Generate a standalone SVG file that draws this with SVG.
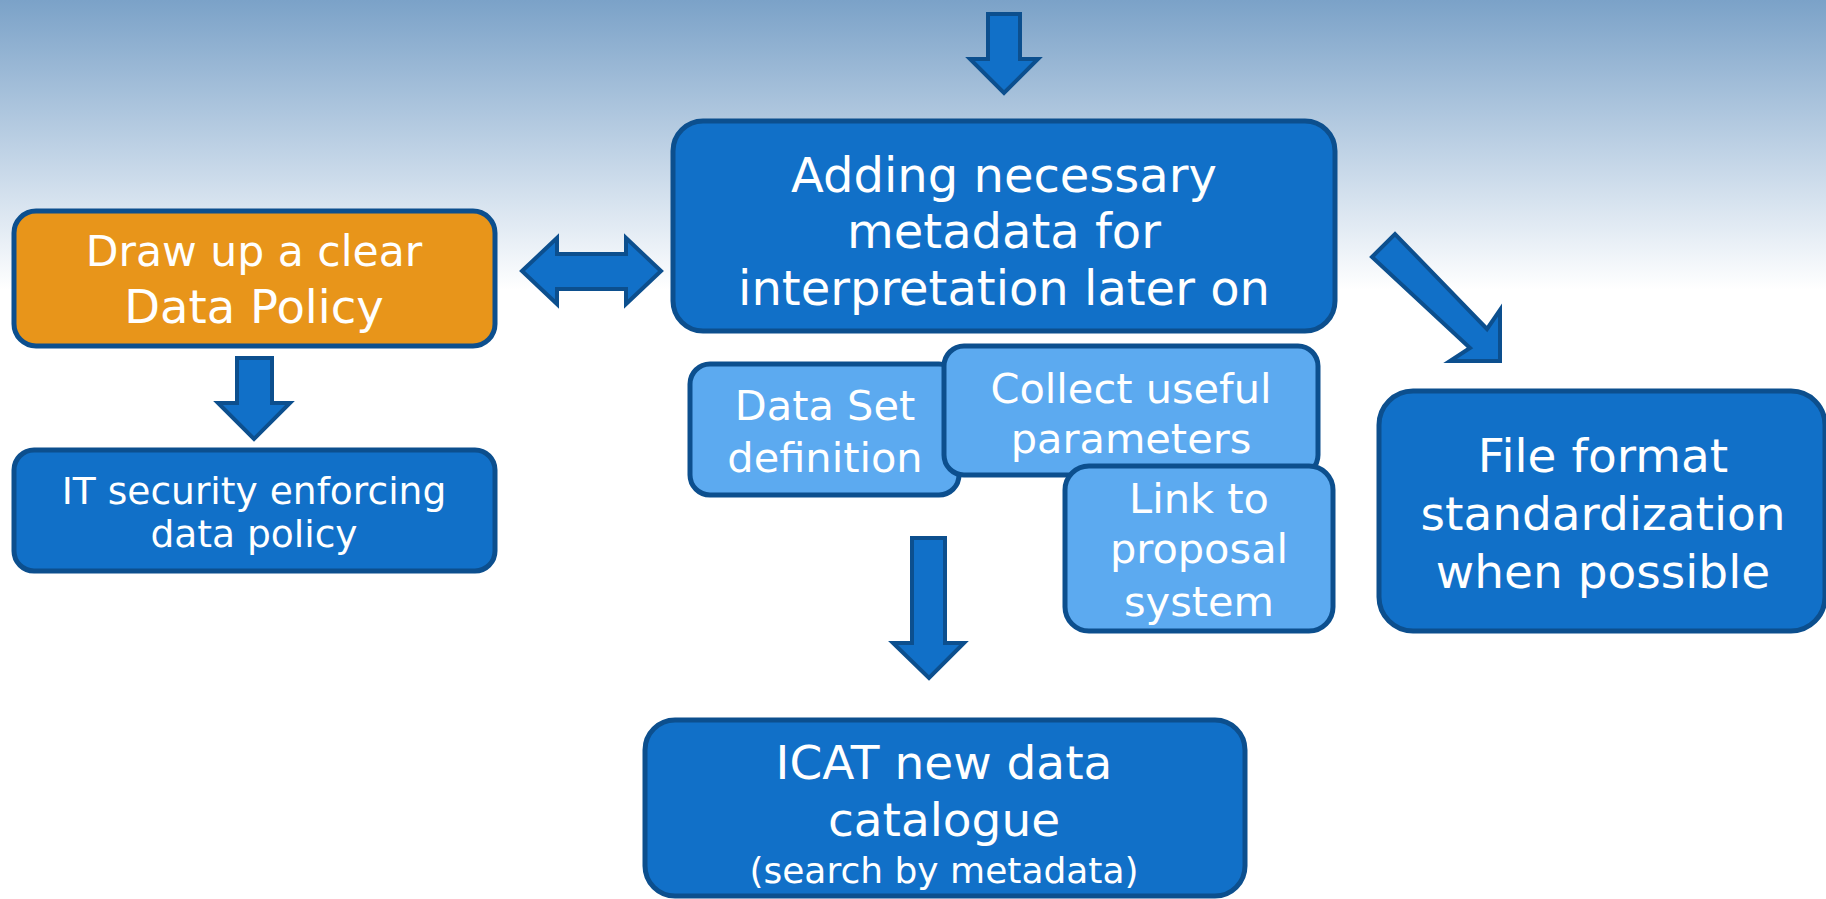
<svg xmlns="http://www.w3.org/2000/svg" width="1826" height="899" viewBox="0 0 1826 899">
<defs>
<linearGradient id="bg" x1="0" y1="0" x2="0" y2="1">
<stop offset="0" stop-color="#7BA2C8"/>
<stop offset="0.55" stop-color="#C3D5E7"/>
<stop offset="1" stop-color="#FFFFFF"/>
</linearGradient>
<style>
.box{fill:#1170C8;stroke:#0C4F8E;stroke-width:5}
.lbox{fill:#5CAAF0;stroke:#0C4F8E;stroke-width:5}
.obox{fill:#E8951A;stroke:#0C4F8E;stroke-width:5}
.arr{fill:#1170C8;stroke:#0C4F8E;stroke-width:4;stroke-linejoin:miter}
text{font-family:"DejaVu Sans","Verdana",sans-serif;fill:#FFFFFF;text-anchor:middle}
</style>
</defs>
<rect x="0" y="0" width="1826" height="899" fill="#FFFFFF"/>
<rect x="0" y="0" width="1826" height="290" fill="url(#bg)"/>
<g id="connectors">
<polygon class="arr" points="988,14 1020,14 1020,59 1038,59 1004,93 970,59 988,59"/>
<polygon class="arr" points="522,271 557,238 557,254 626,254 626,238 661,271 626,304 626,289 557,289 557,304"/>
<polygon class="arr" points="237,358 272,358 272,403 290,403 254,439 218,403 237,403"/>
<polygon class="arr" points="912,538 945,538 945,643 964,643 929,678 893,643 912,643"/>
<polygon class="arr" points="1372,257 1395,234 1487,329 1500,310 1500,361 1450,361 1470,348"/>
</g>
<g id="node-metadata">
<rect class="box" x="673" y="121" width="662" height="210" rx="30"/>
<text x="1004" y="192" font-size="48">Adding necessary</text>
<text x="1004" y="248" font-size="48">metadata for</text>
<text x="1004" y="305" font-size="48">interpretation later on</text>
</g>
<g id="node-policy">
<rect class="obox" x="14" y="211" width="481" height="135" rx="22"/>
<text x="254" y="266" font-size="42.5">Draw up a clear</text>
<text x="254" y="323" font-size="46.5">Data Policy</text>
</g>
<g id="node-security">
<rect class="box" x="14" y="450" width="481" height="121" rx="20"/>
<text x="254" y="504" font-size="37.6">IT security enforcing</text>
<text x="254" y="547" font-size="37.6">data policy</text>
</g>
<g id="node-dataset">
<rect class="lbox" x="690" y="364" width="269" height="131" rx="20"/>
<text x="825" y="420" font-size="41.5">Data Set</text>
<text x="825" y="472" font-size="41.5">definition</text>
</g>
<g id="node-collect">
<rect class="lbox" x="944" y="346" width="374" height="129" rx="20"/>
<text x="1131" y="403" font-size="41.5">Collect useful</text>
<text x="1131" y="453" font-size="41.5">parameters</text>
</g>
<g id="node-link">
<rect class="lbox" x="1065" y="466" width="268" height="165" rx="24"/>
<text x="1199" y="513" font-size="41.5">Link to</text>
<text x="1199" y="563" font-size="41.5">proposal</text>
<text x="1199" y="616" font-size="41.5">system</text>
</g>
<g id="node-fileformat">
<rect class="box" x="1379" y="391" width="446" height="240" rx="34"/>
<text x="1603" y="472" font-size="47">File format</text>
<text x="1603" y="530" font-size="47">standardization</text>
<text x="1603" y="588" font-size="47">when possible</text>
</g>
<g id="node-icat">
<rect class="box" x="645" y="720" width="600" height="176" rx="30"/>
<text x="944" y="779" font-size="47">ICAT new data</text>
<text x="944" y="836" font-size="47">catalogue</text>
<text x="944" y="883" font-size="36">(search by metadata)</text>
</g>
</svg>
